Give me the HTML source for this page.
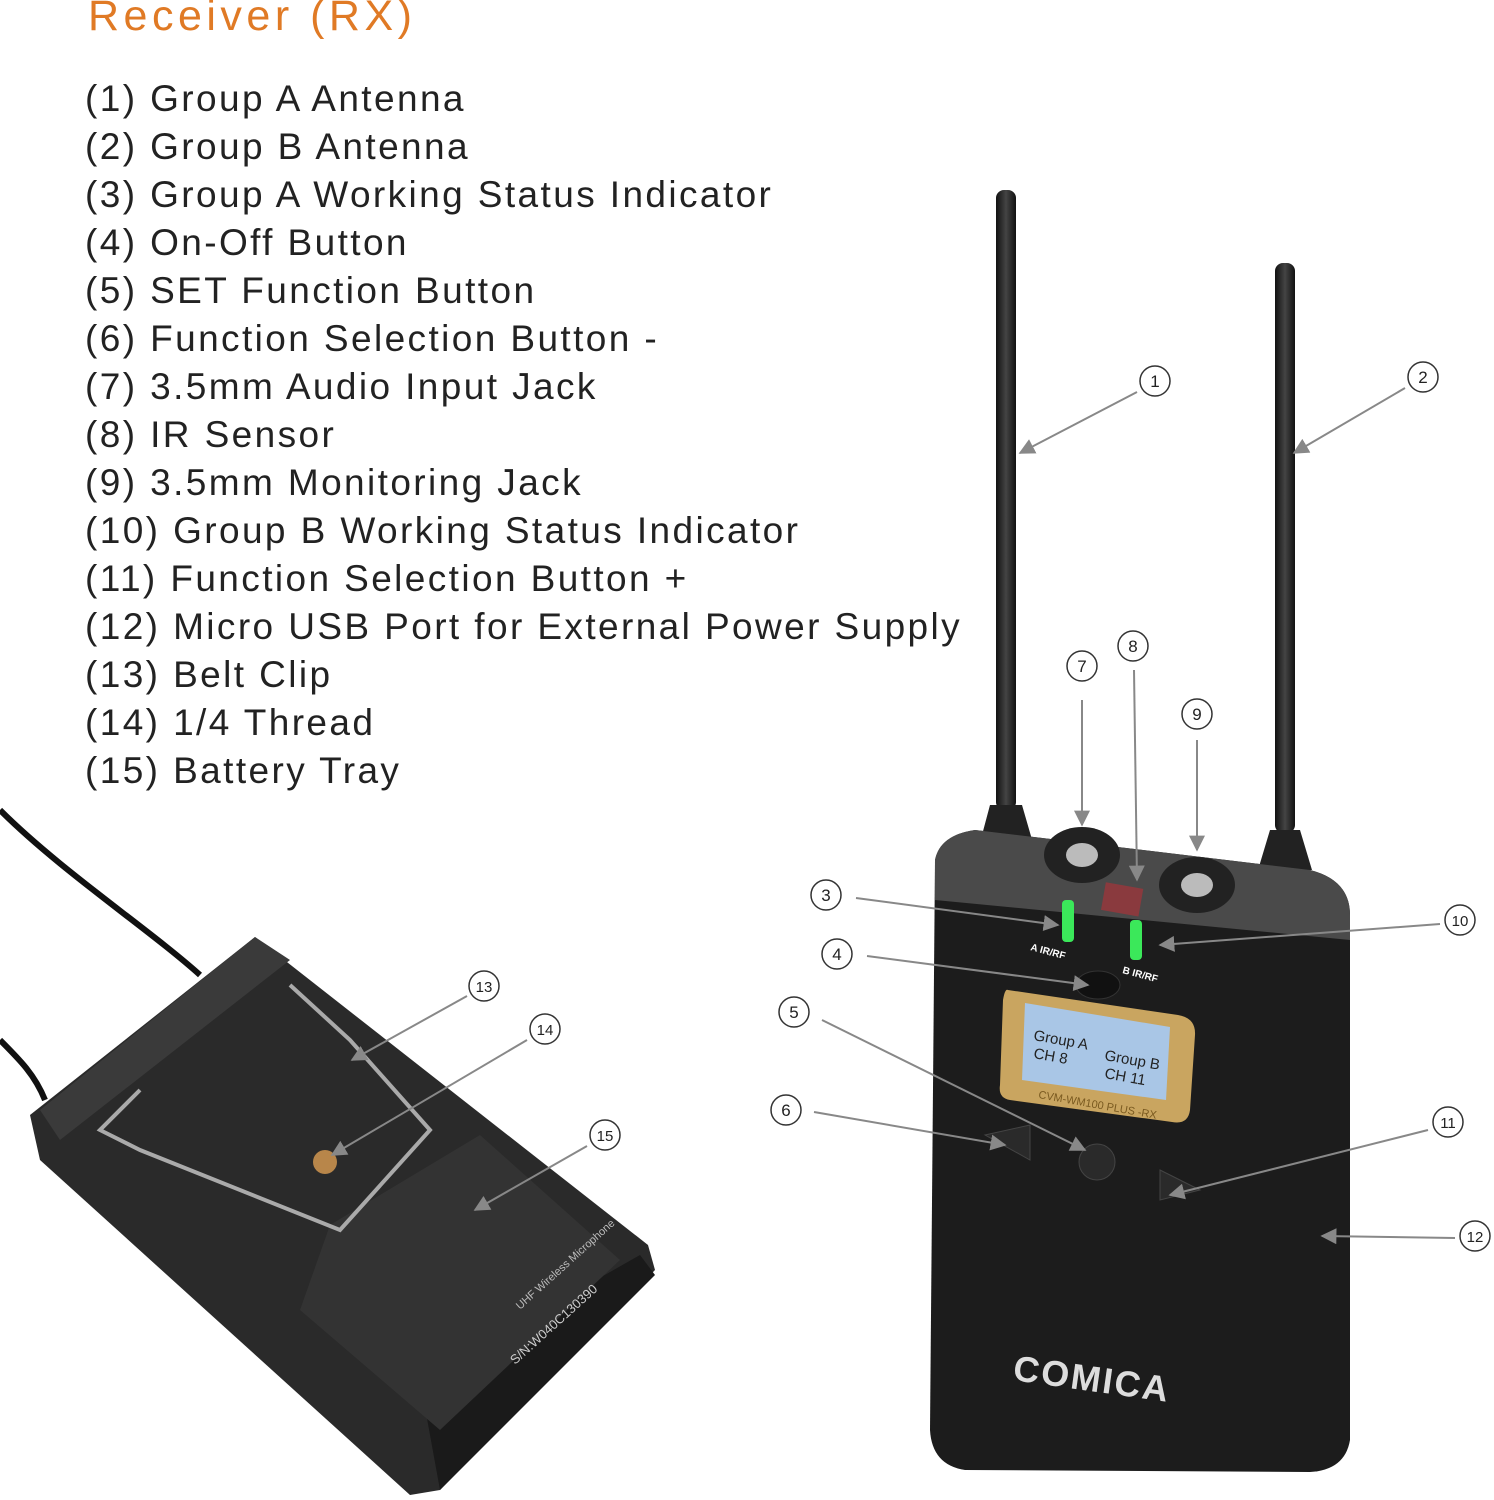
<!DOCTYPE html>
<html><head><meta charset="utf-8"><style>
html,body{margin:0;padding:0;background:#fff;}
body{width:1494px;height:1500px;position:relative;overflow:hidden;font-family:"Liberation Sans","DejaVu Sans",sans-serif;}
.t{position:absolute;left:88px;top:-8px;font-size:43px;color:#e07a25;letter-spacing:4.5px;}
.l{position:absolute;left:85px;font-size:37px;color:#222;letter-spacing:2.4px;white-space:nowrap;}
svg{position:absolute;left:0;top:0;}
</style></head><body>
<svg width="1494" height="1500" viewBox="0 0 1494 1500">
<defs>
<linearGradient id="ant" x1="0" x2="1"><stop offset="0" stop-color="#111"/><stop offset=".5" stop-color="#444"/><stop offset="1" stop-color="#111"/></linearGradient>
<marker id="ar" viewBox="0 0 10 10" refX="9" refY="5" markerWidth="8" markerHeight="8" orient="auto"><path d="M0,0L10,5L0,10z" fill="#888"/></marker>
</defs>
<path d="M0,810 C60,870 150,930 200,975" stroke="#111" stroke-width="6" fill="none"/>
<path d="M0,1040 C20,1060 35,1075 45,1100" stroke="#111" stroke-width="6" fill="none"/>
<polygon points="255,937 30,1115 40,1160 410,1495 440,1490 655,1270 648,1245" fill="#2a2a2a"/>
<polygon points="255,937 40,1110 60,1140 290,960" fill="#3a3a3a"/>
<polygon points="420,1380 440,1490 655,1275 640,1255" fill="#1a1a1a"/>
<polygon points="330,1225 480,1135 620,1260 440,1430 300,1310" fill="#333"/>
<path d="M290,985 L350,1040 L430,1130 L340,1230 L140,1150 L100,1130 L140,1090" stroke="#aaa" stroke-width="4" fill="none"/>
<circle cx="325" cy="1162" r="12" fill="#b8864a"/>
<text x="520" y="1310" transform="rotate(-42 520 1310)" font-size="11" fill="#bbb">UHF Wireless Microphone</text>
<text x="515" y="1365" transform="rotate(-42 515 1365)" font-size="13" fill="#ccc">S/N:W040C130390</text>
<rect x="996" y="190" width="20" height="620" rx="8" fill="url(#ant)"/>
<rect x="1275" y="263" width="20" height="570" rx="8" fill="url(#ant)"/>
<path d="M990,805 L1022,805 L1035,850 L978,850z" fill="#222"/>
<path d="M1270,830 L1300,830 L1312,870 L1258,870z" fill="#222"/>
<path d="M935,860 Q940,835 975,830 L1310,870 Q1350,880 1350,915 L1350,1440 Q1345,1470 1310,1472 L965,1470 Q932,1465 930,1430z" fill="#1c1c1c"/>
<path d="M935,860 Q940,835 975,830 L1310,870 Q1350,880 1350,915 L1350,940 L935,900z" fill="#4a4a4a"/>
<ellipse cx="1082" cy="855" rx="38" ry="28" fill="#222"/><ellipse cx="1082" cy="855" rx="16" ry="12" fill="#bbb"/>
<ellipse cx="1197" cy="885" rx="38" ry="28" fill="#222"/><ellipse cx="1197" cy="885" rx="16" ry="12" fill="#bbb"/>
<rect x="1103" y="885" width="38" height="28" fill="#8a3a3e" transform="rotate(10 1120 900)"/>
<rect x="1062" y="900" width="12" height="42" rx="4" fill="#3be85a"/>
<rect x="1130" y="920" width="12" height="40" rx="4" fill="#3be85a"/>
<text x="1030" y="950" font-size="10" fill="#fff" font-weight="bold" transform="rotate(15 1030 950)">A IR/RF</text>
<text x="1122" y="973" font-size="10" fill="#fff" font-weight="bold" transform="rotate(15 1122 973)">B IR/RF</text>
<ellipse cx="1098" cy="985" rx="22" ry="14" fill="#111" stroke="#333"/>
<path d="M1008,990 L1178,1015 Q1196,1018 1195,1035 L1190,1110 Q1188,1125 1172,1122 L1010,1100 Q998,1098 1000,1085 L1003,1000 Q1005,988 1008,990z" fill="#c9a560"/>
<path d="M1025,1003 L1170,1027 L1166,1100 L1022,1080z" fill="#a9c6e6"/>
<text x="1033" y="1040" font-size="15" fill="#222" transform="rotate(10 1033 1040)">Group A</text>
<text x="1033" y="1058" font-size="15" fill="#222" transform="rotate(10 1033 1058)">CH 8</text>
<text x="1104" y="1060" font-size="15" fill="#222" transform="rotate(10 1104 1060)">Group B</text>
<text x="1104" y="1078" font-size="15" fill="#222" transform="rotate(10 1104 1078)">CH 11</text>
<text x="1038" y="1098" font-size="11" fill="#7a5a20" transform="rotate(10 1038 1098)">CVM-WM100 PLUS -RX</text>
<path d="M985,1135 L1030,1125 L1030,1160z" fill="#2a2a2a" stroke="#444"/>
<circle cx="1097" cy="1162" r="18" fill="#2a2a2a" stroke="#444"/>
<path d="M1160,1170 L1200,1190 L1160,1200z" fill="#2a2a2a" stroke="#444"/>
<text x="1012" y="1380" font-size="36" font-weight="bold" fill="#ddd" transform="rotate(8 1012 1380)" letter-spacing="2">COMICA</text>
<g stroke="#888" stroke-width="2" fill="none">
<line x1="1137" y1="392" x2="1020" y2="453" marker-end="url(#ar)"/>
<line x1="1405" y1="388" x2="1294" y2="453" marker-end="url(#ar)"/>
<line x1="856" y1="898" x2="1058" y2="925" marker-end="url(#ar)"/>
<line x1="867" y1="956" x2="1088" y2="985" marker-end="url(#ar)"/>
<line x1="822" y1="1020" x2="1085" y2="1150" marker-end="url(#ar)"/>
<line x1="814" y1="1112" x2="1005" y2="1145" marker-end="url(#ar)"/>
<line x1="1082" y1="700" x2="1082" y2="825" marker-end="url(#ar)"/>
<line x1="1134" y1="670" x2="1137" y2="880" marker-end="url(#ar)"/>
<line x1="1197" y1="740" x2="1197" y2="850" marker-end="url(#ar)"/>
<line x1="1440" y1="924" x2="1160" y2="945" marker-end="url(#ar)"/>
<line x1="1428" y1="1130" x2="1170" y2="1195" marker-end="url(#ar)"/>
<line x1="1455" y1="1238" x2="1322" y2="1236" marker-end="url(#ar)"/>
<line x1="467" y1="996" x2="352" y2="1060" marker-end="url(#ar)"/>
<line x1="527" y1="1040" x2="332" y2="1155" marker-end="url(#ar)"/>
<line x1="587" y1="1146" x2="475" y2="1210" marker-end="url(#ar)"/>
</g>
<g fill="#fff" stroke="#333" stroke-width="1.5">
<circle cx="1155" cy="381" r="15"/><circle cx="1423" cy="377" r="15"/><circle cx="826" cy="895" r="15"/>
<circle cx="837" cy="954" r="15"/><circle cx="794" cy="1012" r="15"/><circle cx="786" cy="1110" r="15"/>
<circle cx="1082" cy="666" r="15"/><circle cx="1133" cy="646" r="15"/><circle cx="1197" cy="714" r="15"/>
<circle cx="1460" cy="920" r="15"/><circle cx="1448" cy="1122" r="15"/><circle cx="1475" cy="1236" r="15"/>
<circle cx="484" cy="986" r="15"/><circle cx="545" cy="1029" r="15"/><circle cx="605" cy="1135" r="15"/>
</g>
<g font-size="17" fill="#222" text-anchor="middle">
<text x="1155" y="387">1</text><text x="1423" y="383">2</text><text x="826" y="901">3</text>
<text x="837" y="960">4</text><text x="794" y="1018">5</text><text x="786" y="1116">6</text>
<text x="1082" y="672">7</text><text x="1133" y="652">8</text><text x="1197" y="720">9</text>
<text x="1460" y="926" font-size="15">10</text><text x="1448" y="1128" font-size="15">11</text><text x="1475" y="1242" font-size="15">12</text>
<text x="484" y="992" font-size="15">13</text><text x="545" y="1035" font-size="15">14</text><text x="605" y="1141" font-size="15">15</text>
</g>
</svg>
<div class="t">Receiver (RX)</div>
<div class="l" style="top:78px">(1) Group A Antenna</div>
<div class="l" style="top:126px">(2) Group B Antenna</div>
<div class="l" style="top:174px">(3) Group A Working Status Indicator</div>
<div class="l" style="top:222px">(4) On-Off Button</div>
<div class="l" style="top:270px">(5) SET Function Button</div>
<div class="l" style="top:318px">(6) Function Selection Button -</div>
<div class="l" style="top:366px">(7) 3.5mm Audio Input Jack</div>
<div class="l" style="top:414px">(8) IR Sensor</div>
<div class="l" style="top:462px">(9) 3.5mm Monitoring Jack</div>
<div class="l" style="top:510px">(10) Group B Working Status Indicator</div>
<div class="l" style="top:558px">(11) Function Selection Button +</div>
<div class="l" style="top:606px">(12) Micro USB Port for External Power Supply</div>
<div class="l" style="top:654px">(13) Belt Clip</div>
<div class="l" style="top:702px">(14) 1/4 Thread</div>
<div class="l" style="top:750px">(15) Battery Tray</div>
</body></html>
